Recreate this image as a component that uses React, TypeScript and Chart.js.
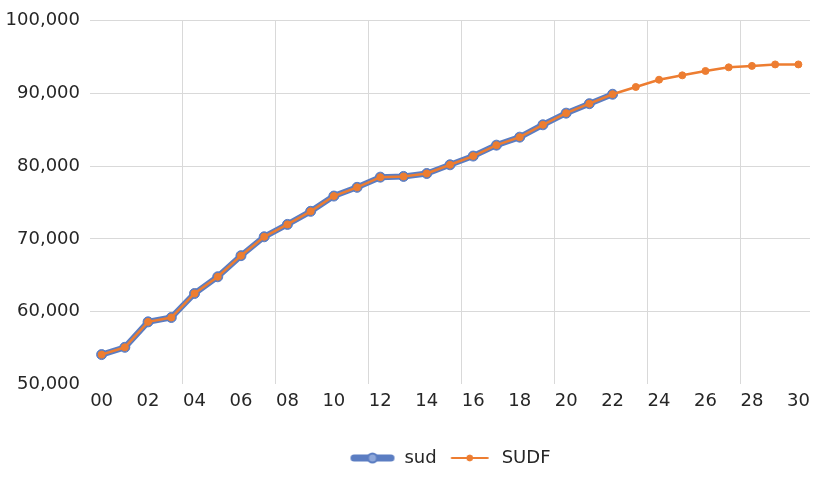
import React, { useEffect, useRef } from 'react';
import { Chart, registerables } from 'chart.js';

Chart.register(...registerables);

const years = ['00', '01', '02', '03', '04', '05', '06', '07', '08', '09', '10', '11', '12', '13', '14', '15', '16', '17', '18', '19', '20', '21', '22', '23', '24', '25', '26', '27', '28', '29', '30'];
const sudValues = [54100, 55100, 58600, 59200, 62500, 64800, 67700, 70300, 72000, 73800, 75900, 77100, 78500, 78600, 79000, 80200, 81400, 82900, 84000, 85700, 87300, 88600, 89900];
const sudfValues = [54100, 55100, 58600, 59200, 62500, 64800, 67700, 70300, 72000, 73800, 75900, 77100, 78500, 78600, 79000, 80200, 81400, 82900, 84000, 85700, 87300, 88600, 89900, 90900, 91900, 92500, 93100, 93600, 93800, 94000, 94000];
const seriesNames = ['sud', 'SUDF'];
const yMin = 50000;
const yMax = 100000;
const yStep = 10000;

const BLUE = '#5B7DC2';
const ORANGE = '#ED7D31';
const TEXT = '#262626';
const FONT = "'DejaVu Sans', sans-serif";

function makeIcon(w: number, h: number, color: string, lw: number, r: number, fill: string, border: string, bw: number) {
  const c = document.createElement('canvas');
  c.width = w;
  c.height = h;
  const ctx = c.getContext('2d')!;
  ctx.strokeStyle = color;
  ctx.lineWidth = lw;
  ctx.lineCap = 'round';
  ctx.beginPath();
  ctx.moveTo(lw / 2 + 1, h / 2);
  ctx.lineTo(w - lw / 2 - 1, h / 2);
  ctx.stroke();
  ctx.beginPath();
  ctx.arc(w / 2, h / 2, r, 0, Math.PI * 2);
  ctx.fillStyle = fill;
  ctx.fill();
  ctx.lineWidth = bw;
  ctx.strokeStyle = border;
  ctx.stroke();
  return c;
}

const shiftLegend = {
  id: 'shiftLegend',
  afterLayout(chart: any) {
    const lg = chart.legend;
    if (!lg) return;
    const ca = chart.chartArea;
    const dx = (ca.left + ca.right) / 2 - (lg.left + lg.right) / 2;
    lg.left += dx;
    lg.right += dx;
  },
};

export default function App() {
  const ref = useRef<HTMLCanvasElement | null>(null);

  useEffect(() => {
    document.body.style.margin = '0';
    const canvas = ref.current;
    if (!canvas) return;
    const icons = [
      makeIcon(46, 14, BLUE, 7, 4.5, '#8FA8DA', BLUE, 2),
      makeIcon(40, 10, ORANGE, 2, 3, ORANGE, ORANGE, 1),
    ];
    const chart = new Chart(canvas, {
      type: 'line',
      data: {
        labels: years,
        datasets: [
          {
            label: seriesNames[0],
            data: sudValues,
            borderColor: BLUE,
            borderWidth: 6,
            pointRadius: 5,
            pointBackgroundColor: BLUE,
            pointBorderColor: BLUE,
            pointBorderWidth: 1,
            tension: 0,
            order: 2,
          },
          {
            label: seriesNames[1],
            data: sudfValues,
            borderColor: ORANGE,
            borderWidth: 2.5,
            pointRadius: 3.5,
            pointBackgroundColor: ORANGE,
            pointBorderColor: ORANGE,
            pointBorderWidth: 1,
            tension: 0,
            order: 1,
          },
        ],
      },
      plugins: [shiftLegend],
      options: {
        responsive: false,
        animation: false,
        layout: { padding: { top: 15, right: 5, left: 0, bottom: 0 } },
        plugins: {
          tooltip: { enabled: false },
          legend: {
            position: 'bottom',
            labels: {
              usePointStyle: true,
              pointStyleWidth: 46,
              padding: 10,
              color: TEXT,
              font: { family: FONT, size: 18 },
              sort: (a: any, b: any) => a.datasetIndex - b.datasetIndex,
              generateLabels: (ch: any) => {
                const items = Chart.defaults.plugins.legend.labels.generateLabels(ch);
                return items.map((it: any) => ({ ...it, pointStyle: icons[it.datasetIndex] }));
              },
            },
          },
        },
        scales: {
          x: {
            type: 'category',
            offset: true,
            border: { display: false },
            afterFit: (scale: any) => {
              scale.height += 21;
            },
            grid: {
              offset: true,
              drawTicks: false,
              lineWidth: 1,
              color: (ctx: any) => (ctx.index > 0 && ctx.index % 4 === 0 ? '#D9D9D9' : 'rgba(0,0,0,0)'),
            },
            ticks: {
              autoSkip: false,
              maxRotation: 0,
              padding: 6,
              color: TEXT,
              font: { family: FONT, size: 18 },
              callback: (_v: any, i: number) => (i % 2 === 0 ? years[i] : ''),
            },
          },
          y: {
            min: yMin,
            max: yMax,
            border: { display: false },
            afterFit: (scale: any) => {
              scale.width = 90;
            },
            grid: {
              drawTicks: false,
              lineWidth: 1,
              color: (ctx: any) => (ctx.tick && ctx.tick.value === yMin ? 'rgba(0,0,0,0)' : '#D9D9D9'),
            },
            ticks: {
              stepSize: yStep,
              padding: 10,
              color: TEXT,
              font: { family: FONT, size: 18 },
              callback: (v: any) => Number(v).toLocaleString('en-US'),
            },
          },
        },
      },
    });
    return () => chart.destroy();
  }, []);

  return (
    <div style={{ width: 816, height: 477 }}>
      <canvas ref={ref} width={816} height={477} />
    </div>
  );
}
